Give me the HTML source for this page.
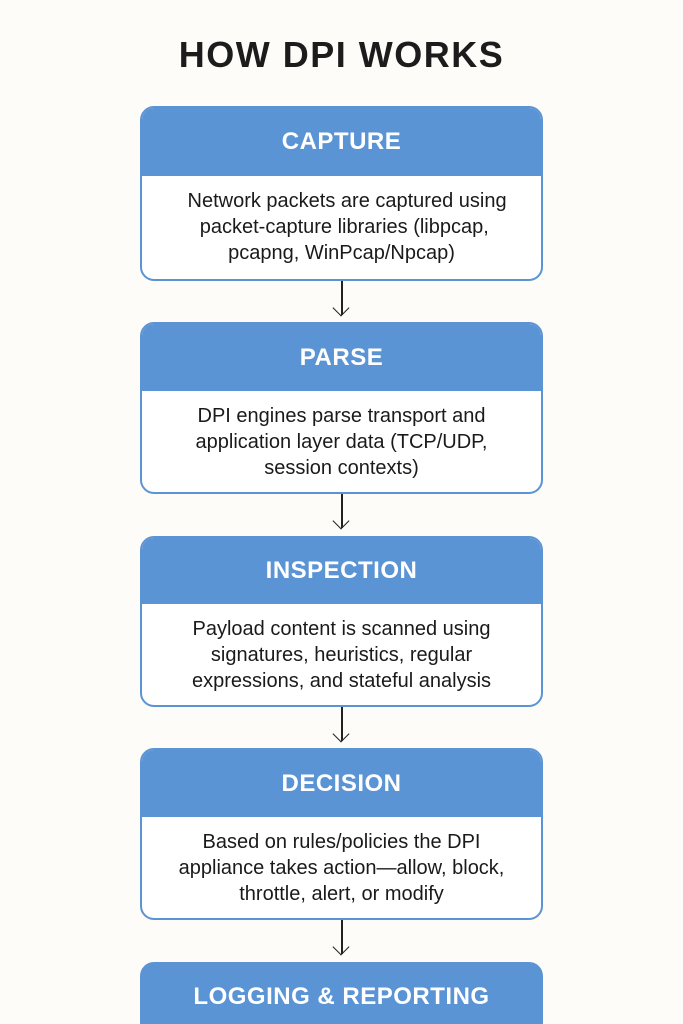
<!DOCTYPE html>
<html><head><meta charset="utf-8"><style>
html,body{margin:0;width:683px;height:1024px;overflow:hidden;}
body{background:#fdfcf9;position:relative;font-family:"Liberation Sans",sans-serif;}
.t{position:absolute;left:0;width:683px;top:34px;text-align:center;font-size:36px;font-weight:bold;color:#1c1c1c;letter-spacing:1.5px;}
.box{position:absolute;left:140px;width:399px;border:2px solid #5b94d5;border-radius:14px;background:#fff;overflow:hidden;}
.h{background:#5b94d5;color:#fff;font-size:24px;font-weight:bold;text-align:center;letter-spacing:0.5px;}
.b{text-align:center;font-size:20px;line-height:26px;color:#1a1a1a;padding-top:12px;}
.a{position:absolute;left:341px;width:1.5px;background:#222;}
.ah{position:absolute;left:335px;width:11px;height:11px;border-right:1.5px solid #222;border-bottom:1.5px solid #222;transform:rotate(45deg);}
</style></head><body>
<div class="t">HOW DPI WORKS</div>

<div class="box" style="top:106px;height:171px"><div class="h" style="height:68px;line-height:68px">CAPTURE</div>
<div class="b">&nbsp;&nbsp;Network packets are captured using<br>&nbsp;packet-capture libraries (libpcap,<br>pcapng, WinPcap/Npcap)</div></div>
<div class="a" style="top:281px;height:34px"></div><div class="ah" style="top:302px"></div>

<div class="box" style="top:322px;height:168px"><div class="h" style="height:67px;line-height:67px">PARSE</div>
<div class="b">DPI engines parse transport and<br>application layer data (TCP/UDP,<br>session contexts)</div></div>
<div class="a" style="top:494px;height:34px"></div><div class="ah" style="top:515px"></div>

<div class="box" style="top:536px;height:167px"><div class="h" style="height:66px;line-height:66px">INSPECTION</div>
<div class="b">Payload content is scanned using<br>signatures, heuristics, regular<br>expressions, and stateful analysis</div></div>
<div class="a" style="top:707px;height:34px"></div><div class="ah" style="top:728px"></div>

<div class="box" style="top:748px;height:168px"><div class="h" style="height:67px;line-height:67px">DECISION</div>
<div class="b">Based on rules/policies the DPI<br>appliance takes action—allow, block,<br>throttle, alert, or modify</div></div>
<div class="a" style="top:920px;height:34px"></div><div class="ah" style="top:941px"></div>

<div class="box" style="top:962px;height:100px;background:#5b94d5"><div class="h" style="height:66px;line-height:66px">LOGGING &amp; REPORTING</div></div>
</body></html>
